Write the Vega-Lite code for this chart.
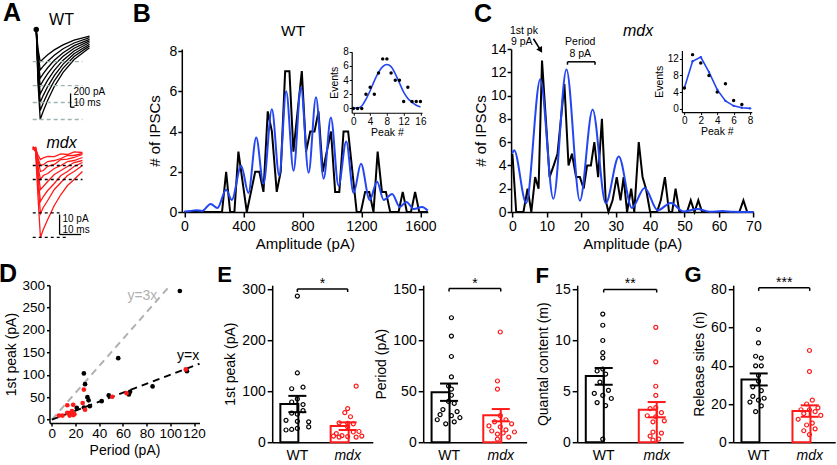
{
"$schema":"https://vega.github.io/schema/vega-lite/v6.json",
"background":"white",
"padding":{"left":-1.5,"top":0,"right":0,"bottom":0},
"autosize":{"type":"pad"},
"config":{
 "font":"Liberation Sans",
 "numberFormat":"d",
 "view":{"stroke":null},
 "axis":{"domainColor":"black","domainWidth":1.5,"tickColor":"black","tickWidth":1.5,"tickSize":5,"labelColor":"black","titleColor":"black","labelFontSize":14,"titleFontSize":15,"titleFontWeight":"normal","grid":false,"labelPadding":2,"titlePadding":3,"labelFont":"Liberation Sans","titleFont":"Liberation Sans","labelOverlap":false,"labelFlush":false,"tickCount":20},
 "text":{"font":"Liberation Sans","color":"black"}
},
"datasets":{
 "wtTraces":[
  {"tr":1,"t":0.8,"i":0},{"tr":1,"t":1.6,"i":-258},{"tr":1,"t":2.6,"i":-430},{"tr":1,"t":4,"i":-389},{"tr":1,"t":6,"i":-338},{"tr":1,"t":9,"i":-272},{"tr":1,"t":13,"i":-205},{"tr":1,"t":18,"i":-143},{"tr":1,"t":25,"i":-87},
  {"tr":2,"t":0.8,"i":0},{"tr":2,"t":1.6,"i":-324},{"tr":2,"t":2.6,"i":-540},{"tr":2,"t":4,"i":-489},{"tr":2,"t":6,"i":-424},{"tr":2,"t":9,"i":-342},{"tr":2,"t":13,"i":-257},{"tr":2,"t":18,"i":-180},{"tr":2,"t":25,"i":-109},
  {"tr":3,"t":0.8,"i":0},{"tr":3,"t":1.6,"i":-390},{"tr":3,"t":2.6,"i":-650},{"tr":3,"t":4,"i":-588},{"tr":3,"t":6,"i":-510},{"tr":3,"t":9,"i":-411},{"tr":3,"t":13,"i":-309},{"tr":3,"t":18,"i":-216},{"tr":3,"t":25,"i":-131},
  {"tr":4,"t":0.8,"i":0},{"tr":4,"t":1.6,"i":-450},{"tr":4,"t":2.6,"i":-750},{"tr":4,"t":4,"i":-679},{"tr":4,"t":6,"i":-589},{"tr":4,"t":9,"i":-475},{"tr":4,"t":13,"i":-357},{"tr":4,"t":18,"i":-250},{"tr":4,"t":25,"i":-152},
  {"tr":5,"t":0.8,"i":0},{"tr":5,"t":1.6,"i":-516},{"tr":5,"t":2.6,"i":-860},{"tr":5,"t":4,"i":-778},{"tr":5,"t":6,"i":-675},{"tr":5,"t":9,"i":-544},{"tr":5,"t":13,"i":-409},{"tr":5,"t":18,"i":-286},{"tr":5,"t":25,"i":-174},
  {"tr":6,"t":0.8,"i":0},{"tr":6,"t":1.6,"i":-582},{"tr":6,"t":2.6,"i":-970},{"tr":6,"t":4,"i":-878},{"tr":6,"t":6,"i":-761},{"tr":6,"t":9,"i":-614},{"tr":6,"t":13,"i":-462},{"tr":6,"t":18,"i":-323},{"tr":6,"t":25,"i":-196},
  {"tr":7,"t":0.8,"i":0},{"tr":7,"t":1.6,"i":-648},{"tr":7,"t":2.6,"i":-1080},{"tr":7,"t":4,"i":-977},{"tr":7,"t":6,"i":-848},{"tr":7,"t":9,"i":-684},{"tr":7,"t":13,"i":-514},{"tr":7,"t":18,"i":-360},{"tr":7,"t":25,"i":-218},
  {"tr":8,"t":0.8,"i":0},{"tr":8,"t":1.6,"i":-720},{"tr":8,"t":2.6,"i":-1200},{"tr":8,"t":4,"i":-1086},{"tr":8,"t":6,"i":-942},{"tr":8,"t":9,"i":-760},{"tr":8,"t":13,"i":-571},{"tr":8,"t":18,"i":-400},{"tr":8,"t":25,"i":-242}
 ],
 "wtDash":[{"i":-427,"t1":-0.8,"t2":21.8},{"i":-747,"t1":-0.8,"t2":21.8},{"i":-973,"t1":-0.8,"t2":21.8},{"i":-1200,"t1":-0.8,"t2":21.8}],
 "wtBar":[{"t1":16.4,"t2":16.4,"i1":-853,"i2":-1036},{"t1":16.4,"t2":18.2,"i1":-1036,"i2":-1036}],
 "mdxTraces":[
  {"tr":1,"t":-0.8,"i":1},{"tr":1,"t":0.5,"i":0.5},{"tr":1,"t":1.5,"i":-2.5},{"tr":1,"t":2.7,"i":-5},{"tr":1,"t":4,"i":-4.2},{"tr":1,"t":6,"i":-3.5},{"tr":1,"t":9,"i":-3.6},{"tr":1,"t":12,"i":-2.2},{"tr":1,"t":15,"i":-2.5},{"tr":1,"t":18,"i":-1.2},{"tr":1,"t":21.8,"i":-1.5},
  {"tr":2,"t":-0.8,"i":0},{"tr":2,"t":0.5,"i":1},{"tr":2,"t":1.5,"i":-4},{"tr":2,"t":2.7,"i":-8},{"tr":2,"t":4,"i":-7.6},{"tr":2,"t":6,"i":-6},{"tr":2,"t":9,"i":-5.5},{"tr":2,"t":12,"i":-4.5},{"tr":2,"t":15,"i":-3},{"tr":2,"t":18,"i":-3},{"tr":2,"t":21.8,"i":-2},
  {"tr":3,"t":-0.8,"i":1.5},{"tr":3,"t":0.5,"i":0},{"tr":3,"t":1.5,"i":-5},{"tr":3,"t":2.7,"i":-11},{"tr":3,"t":4,"i":-10.5},{"tr":3,"t":6,"i":-8.4},{"tr":3,"t":9,"i":-7.5},{"tr":3,"t":12,"i":-5},{"tr":3,"t":15,"i":-4.8},{"tr":3,"t":18,"i":-4},{"tr":3,"t":21.8,"i":-2.5},
  {"tr":4,"t":-0.8,"i":0.5},{"tr":4,"t":0.5,"i":1},{"tr":4,"t":1.5,"i":-8},{"tr":4,"t":2.7,"i":-15},{"tr":4,"t":4,"i":-13},{"tr":4,"t":6,"i":-12},{"tr":4,"t":9,"i":-9.5},{"tr":4,"t":12,"i":-8},{"tr":4,"t":15,"i":-6},{"tr":4,"t":18,"i":-5.5},{"tr":4,"t":21.8,"i":-4},
  {"tr":5,"t":-0.8,"i":1},{"tr":5,"t":0.5,"i":-0.5},{"tr":5,"t":1.5,"i":-10},{"tr":5,"t":2.7,"i":-20},{"tr":5,"t":4,"i":-18.5},{"tr":5,"t":6,"i":-16},{"tr":5,"t":9,"i":-12.5},{"tr":5,"t":12,"i":-10.5},{"tr":5,"t":15,"i":-8.5},{"tr":5,"t":18,"i":-6.5},{"tr":5,"t":21.8,"i":-5.5},
  {"tr":6,"t":-0.8,"i":0},{"tr":6,"t":0.5,"i":0.5},{"tr":6,"t":1.5,"i":-13},{"tr":6,"t":2.7,"i":-26},{"tr":6,"t":4,"i":-23.5},{"tr":6,"t":6,"i":-20.5},{"tr":6,"t":9,"i":-17},{"tr":6,"t":12,"i":-13},{"tr":6,"t":15,"i":-11},{"tr":6,"t":18,"i":-8.5},{"tr":6,"t":21.8,"i":-6.5},
  {"tr":7,"t":-0.8,"i":1},{"tr":7,"t":0.5,"i":0},{"tr":7,"t":1.5,"i":-16},{"tr":7,"t":2.7,"i":-32},{"tr":7,"t":4,"i":-29},{"tr":7,"t":6,"i":-25.5},{"tr":7,"t":9,"i":-20},{"tr":7,"t":12,"i":-16.5},{"tr":7,"t":15,"i":-13},{"tr":7,"t":18,"i":-11},{"tr":7,"t":21.8,"i":-8},
  {"tr":8,"t":-0.8,"i":0.5},{"tr":8,"t":0.5,"i":-1},{"tr":8,"t":1.5,"i":-22},{"tr":8,"t":2.7,"i":-44},{"tr":8,"t":4,"i":-40},{"tr":8,"t":6,"i":-35},{"tr":8,"t":9,"i":-28},{"tr":8,"t":12,"i":-22.5},{"tr":8,"t":15,"i":-18},{"tr":8,"t":18,"i":-15},{"tr":8,"t":21.8,"i":-11}
 ],
 "mdxDash":[{"i":-8,"t1":-0.8,"t2":21.8},{"i":-15,"t1":-0.8,"t2":21.8},{"i":-31.7,"t1":-0.8,"t2":11.4},{"i":-43.9,"t1":-0.8,"t2":14.5}],
 "mdxBar":[{"t1":11.4,"t2":11.4,"i1":-32.5,"i2":-42.5},{"t1":11.4,"t2":21.2,"i1":-42.5,"i2":-42.5}],
 "bBlack":[{"a":0,"n":0},{"a":255,"n":0},{"a":283,"n":2},{"a":310,"n":0},{"a":339,"n":0},{"a":366,"n":3},{"a":423,"n":0},{"a":480,"n":2},{"a":508,"n":2},{"a":536,"n":1},{"a":565,"n":5},{"a":593,"n":4},{"a":626,"n":1},{"a":653,"n":2},{"a":683,"n":7},{"a":712,"n":7},{"a":739,"n":3},{"a":796,"n":7},{"a":825,"n":3},{"a":853,"n":4},{"a":882,"n":4},{"a":909,"n":5},{"a":938,"n":2},{"a":965,"n":3},{"a":994,"n":4},{"a":1022,"n":1},{"a":1050,"n":1},{"a":1079,"n":4},{"a":1110,"n":4},{"a":1168,"n":0},{"a":1196,"n":0},{"a":1225,"n":1},{"a":1253,"n":1},{"a":1282,"n":0},{"a":1310,"n":3},{"a":1339,"n":1},{"a":1366,"n":1},{"a":1395,"n":0},{"a":1452,"n":0},{"a":1480,"n":1},{"a":1508,"n":0},{"a":1536,"n":0},{"a":1564,"n":1},{"a":1592,"n":0},{"a":1650,"n":0}],
 "bBlue":[{"a":0,"n":0.02},{"a":40,"n":0.05},{"a":80,"n":0.09},{"a":120,"n":0.05},{"a":178,"n":0.4},{"a":224,"n":0.2},{"a":283,"n":1.1},{"a":321,"n":0.6},{"a":385,"n":2.3},{"a":434,"n":0.95},{"a":487,"n":3.7},{"a":536,"n":1.4},{"a":593,"n":5.1},{"a":643,"n":1.8},{"a":690,"n":6.0},{"a":740,"n":2.05},{"a":790,"n":6.2},{"a":842,"n":1.95},{"a":892,"n":5.7},{"a":944,"n":1.65},{"a":993,"n":4.7},{"a":1045,"n":1.3},{"a":1097,"n":3.5},{"a":1147,"n":0.95},{"a":1197,"n":2.4},{"a":1256,"n":0.6},{"a":1306,"n":1.5},{"a":1351,"n":0.6},{"a":1408,"n":0.9},{"a":1460,"n":0.25},{"a":1505,"n":0.5},{"a":1555,"n":0.15},{"a":1611,"n":0.25},{"a":1650,"n":0.07}],
 "bInsetPts":[{"k":0,"e":0},{"k":1,"e":0},{"k":2,"e":0},{"k":3,"e":2},{"k":4,"e":3},{"k":5,"e":2},{"k":6,"e":5},{"k":7,"e":7},{"k":8,"e":7},{"k":9,"e":5},{"k":10,"e":4},{"k":11,"e":4},{"k":12,"e":1},{"k":13,"e":3},{"k":14,"e":1},{"k":15,"e":1},{"k":16,"e":1}],
 "bInsetFit":[{"k":0,"e":0.05},{"k":1,"e":0.08},{"k":2,"e":0.35},{"k":3,"e":1.3},{"k":4,"e":2.5},{"k":5,"e":3.9},{"k":6,"e":5.1},{"k":7,"e":5.9},{"k":8,"e":6.2},{"k":9,"e":5.9},{"k":10,"e":4.9},{"k":11,"e":3.6},{"k":12,"e":2.3},{"k":13,"e":1.4},{"k":14,"e":0.85},{"k":15,"e":0.45},{"k":16,"e":0.2}],
 "cBlack":[{"a":0,"n":5},{"a":1.1,"n":0},{"a":3.2,"n":0},{"a":4.4,"n":2},{"a":5.5,"n":0},{"a":6.6,"n":3},{"a":7.6,"n":2},{"a":8.6,"n":13},{"a":10.8,"n":3},{"a":12,"n":4},{"a":13.1,"n":5},{"a":15.1,"n":11},{"a":16.3,"n":4},{"a":17.3,"n":5},{"a":18.5,"n":3},{"a":19.6,"n":3},{"a":20.7,"n":2},{"a":21.7,"n":4},{"a":22.8,"n":4},{"a":23.8,"n":6},{"a":24.9,"n":3},{"a":26,"n":8},{"a":27.1,"n":1},{"a":27.9,"n":0},{"a":29.1,"n":1},{"a":30.3,"n":3},{"a":31.4,"n":1},{"a":32.3,"n":3},{"a":33.3,"n":0},{"a":34.5,"n":2},{"a":35.4,"n":0},{"a":36.7,"n":6},{"a":37.8,"n":3},{"a":38.8,"n":2},{"a":40,"n":0},{"a":42,"n":0},{"a":43.1,"n":1},{"a":44.3,"n":3},{"a":45.5,"n":0},{"a":46.4,"n":0},{"a":47.4,"n":2},{"a":48.5,"n":0},{"a":50.7,"n":0},{"a":51.8,"n":1},{"a":52.9,"n":0},{"a":54,"n":1},{"a":55.1,"n":0},{"a":65.9,"n":0},{"a":67.1,"n":1},{"a":68.2,"n":0},{"a":70,"n":0}],
 "cBlue":[{"a":0,"n":5.06},{"a":0.5,"n":5.3},{"a":4.0,"n":0.77},{"a":8.1,"n":11.4},{"a":11.9,"n":1.14},{"a":15.7,"n":12.25},{"a":19.6,"n":0.97},{"a":23.3,"n":8.8},{"a":27.1,"n":0.75},{"a":30.9,"n":4.77},{"a":34.7,"n":0.35},{"a":38.4,"n":2.06},{"a":42.2,"n":0.15},{"a":46,"n":0.77},{"a":49.7,"n":0.05},{"a":53.8,"n":0.26},{"a":57.4,"n":0.02},{"a":61,"n":0.08},{"a":64,"n":0.02},{"a":70,"n":0}],
 "cInsetPts":[{"k":0,"e":5},{"k":1,"e":13},{"k":2,"e":11},{"k":3,"e":8},{"k":4,"e":4},{"k":5,"e":6},{"k":6,"e":2},{"k":7,"e":1}],
 "cInsetFit":[{"k":0,"e":5},{"k":1,"e":11.4},{"k":2,"e":12.4},{"k":3,"e":8.8},{"k":4,"e":4.6},{"k":5,"e":1.9},{"k":6,"e":0.7},{"k":7,"e":0.25},{"k":8,"e":0.1}],
 "dLines":[{"ln":"3x","p":0,"f":0},{"ln":"3x","p":100,"f":300},{"ln":"1x","p":0,"f":0},{"ln":"1x","p":124.6,"f":124.6}],
 "dPts":[{"g":"WT","p":108,"f":287},{"g":"WT","p":56,"f":137},{"g":"WT","p":27,"f":103},{"g":"WT","p":28,"f":79},{"g":"WT","p":30,"f":50},{"g":"WT","p":31,"f":43},{"g":"WT","p":32,"f":30},{"g":"WT","p":27,"f":27},{"g":"WT","p":21,"f":26},{"g":"WT","p":42,"f":41},{"g":"WT","p":48,"f":54},{"g":"WT","p":66,"f":62},{"g":"WT","p":65,"f":56},{"g":"WT","p":85,"f":74},{"g":"WT","p":114,"f":108},
  {"g":"mdx","p":113,"f":112},{"g":"mdx","p":63,"f":59},{"g":"mdx","p":51,"f":51},{"g":"mdx","p":27,"f":67},{"g":"mdx","p":28,"f":22},{"g":"mdx","p":26,"f":37},{"g":"mdx","p":18,"f":33},{"g":"mdx","p":13,"f":32},{"g":"mdx","p":17,"f":19},{"g":"mdx","p":16,"f":15},{"g":"mdx","p":19,"f":12},{"g":"mdx","p":13,"f":15},{"g":"mdx","p":6,"f":9},{"g":"mdx","p":9,"f":9},{"g":"mdx","p":15,"f":9},{"g":"mdx","p":18,"f":10}],
 "e1Bar":[{"g":"WT","m":75,"lo":59,"hi":91},{"g":"mdx","m":32,"lo":24,"hi":39}],
 "e1Dots":[{"g":"WT","v":287,"s":0},{"g":"WT","v":136,"s":0},{"g":"WT","v":108,"s":1},{"g":"WT","v":105,"s":-1},{"g":"WT","v":85,"s":0},{"g":"WT","v":79,"s":-1},{"g":"WT","v":74,"s":1},{"g":"WT","v":62,"s":1},{"g":"WT","v":57,"s":-1},{"g":"WT","v":55,"s":0},{"g":"WT","v":43,"s":-2},{"g":"WT","v":41,"s":0},{"g":"WT","v":40,"s":2},{"g":"WT","v":30,"s":2},{"g":"WT","v":27,"s":0},{"g":"WT","v":25,"s":-1},{"g":"WT","v":24,"s":-2},
  {"g":"mdx","v":110,"s":1.5},{"g":"mdx","v":66,"s":0},{"g":"mdx","v":58,"s":-0.5},{"g":"mdx","v":50,"s":0.5},{"g":"mdx","v":38,"s":-1.5},{"g":"mdx","v":37,"s":0},{"g":"mdx","v":36,"s":1},{"g":"mdx","v":30,"s":0},{"g":"mdx","v":21,"s":2},{"g":"mdx","v":20,"s":1},{"g":"mdx","v":17,"s":-2},{"g":"mdx","v":13,"s":-1},{"g":"mdx","v":12,"s":2.5},{"g":"mdx","v":12,"s":-2.5},{"g":"mdx","v":11,"s":0},{"g":"mdx","v":10,"s":1.5},{"g":"mdx","v":10,"s":-1.5}],
 "e2Bar":[{"g":"WT","m":49,"lo":40.5,"hi":57.5},{"g":"mdx","m":26.5,"lo":20.5,"hi":32.5}],
 "e2Dots":[{"g":"WT","v":122,"s":0.5},{"g":"WT","v":104,"s":0.5},{"g":"WT","v":84,"s":0.5},{"g":"WT","v":64,"s":0.5},{"g":"WT","v":55,"s":0},{"g":"WT","v":52,"s":0.5},{"g":"WT","v":46,"s":0.5},{"g":"WT","v":40,"s":0},{"g":"WT","v":38,"s":1},{"g":"WT","v":32,"s":-1},{"g":"WT","v":30,"s":1.5},{"g":"WT","v":27,"s":-1.5},{"g":"WT","v":26,"s":0.5},{"g":"WT","v":24,"s":2},{"g":"WT","v":22,"s":-2},{"g":"WT","v":20,"s":1},{"g":"WT","v":18,"s":-0.5},
  {"g":"mdx","v":108,"s":0},{"g":"mdx","v":60,"s":-0.5},{"g":"mdx","v":52,"s":-0.5},{"g":"mdx","v":26,"s":0},{"g":"mdx","v":22,"s":1},{"g":"mdx","v":20,"s":-1},{"g":"mdx","v":18,"s":2},{"g":"mdx","v":16,"s":-2},{"g":"mdx","v":15,"s":0},{"g":"mdx","v":12,"s":1},{"g":"mdx","v":11,"s":-1.5},{"g":"mdx","v":10,"s":2.5},{"g":"mdx","v":9,"s":0.5},{"g":"mdx","v":8,"s":-0.5},{"g":"mdx","v":5,"s":1.5},{"g":"mdx","v":3,"s":-0.5}],
 "fBar":[{"g":"WT","m":6.5,"lo":5.65,"hi":7.3},{"g":"mdx","m":3.2,"lo":2.45,"hi":3.95}],
 "fDots":[{"g":"WT","v":12.6,"s":0},{"g":"WT","v":11.5,"s":0},{"g":"WT","v":10.0,"s":0},{"g":"WT","v":8.8,"s":0},{"g":"WT","v":8.3,"s":0},{"g":"WT","v":7.2,"s":0},{"g":"WT","v":7.0,"s":-1},{"g":"WT","v":6.7,"s":0.5},{"g":"WT","v":5.9,"s":-0.5},{"g":"WT","v":5.1,"s":1},{"g":"WT","v":4.8,"s":-1.5},{"g":"WT","v":4.6,"s":0},{"g":"WT","v":4.3,"s":1.5},{"g":"WT","v":3.9,"s":-1},{"g":"WT","v":3.6,"s":0.5},{"g":"WT","v":0.3,"s":0},
  {"g":"mdx","v":11.3,"s":0},{"g":"mdx","v":7.9,"s":0},{"g":"mdx","v":5.5,"s":0},{"g":"mdx","v":4.6,"s":0},{"g":"mdx","v":3.4,"s":0},{"g":"mdx","v":3.3,"s":-1},{"g":"mdx","v":2.9,"s":1},{"g":"mdx","v":2.6,"s":-1.5},{"g":"mdx","v":2.5,"s":0},{"g":"mdx","v":2.1,"s":1.5},{"g":"mdx","v":2.0,"s":-0.5},{"g":"mdx","v":1.0,"s":-0.5},{"g":"mdx","v":0.9,"s":1},{"g":"mdx","v":0.6,"s":-1},{"g":"mdx","v":0.3,"s":0.5},{"g":"mdx","v":0.2,"s":-0.5}],
 "gBar":[{"g":"WT","m":32.8,"lo":29.7,"hi":36},{"g":"mdx","m":16.3,"lo":13.3,"hi":19.3}],
 "gDots":[{"g":"WT","v":59,"s":0},{"g":"WT","v":52,"s":0},{"g":"WT","v":45,"s":-0.5},{"g":"WT","v":44,"s":0.5},{"g":"WT","v":40,"s":-0.5},{"g":"WT","v":40,"s":0.5},{"g":"WT","v":35,"s":0},{"g":"WT","v":32,"s":0},{"g":"WT","v":29,"s":-1},{"g":"WT","v":27,"s":0.5},{"g":"WT","v":24,"s":-1},{"g":"WT","v":23,"s":1},{"g":"WT","v":22,"s":0},{"g":"WT","v":21,"s":-1.5},{"g":"WT","v":19,"s":0.5},{"g":"WT","v":16,"s":-0.5},
  {"g":"mdx","v":48,"s":0},{"g":"mdx","v":37,"s":0},{"g":"mdx","v":22,"s":0.5},{"g":"mdx","v":20,"s":-0.5},{"g":"mdx","v":18,"s":1.5},{"g":"mdx","v":17,"s":-1.5},{"g":"mdx","v":17,"s":0},{"g":"mdx","v":16,"s":1},{"g":"mdx","v":15,"s":-1},{"g":"mdx","v":14,"s":2},{"g":"mdx","v":12,"s":-2},{"g":"mdx","v":10,"s":0.5},{"g":"mdx","v":9,"s":-0.5},{"g":"mdx","v":7,"s":1},{"g":"mdx","v":6,"s":-1},{"g":"mdx","v":4,"s":0}]
},
"vconcat":[
 {"hconcat":[
  {"width":48.4,"height":163,
   "layer":[
    {"layer":[
     {"data":{"name":"wtTraces"},"mark":{"type":"line","color":"black","strokeWidth":1.3},
      "encoding":{"x":{"field":"t","type":"quantitative","scale":{"domain":[6.82,28.82],"nice":false,"zero":false},"axis":null},
       "y":{"field":"i","type":"quantitative","scale":{"domain":[-2433,-260],"nice":false,"zero":false},"axis":null},
       "detail":{"field":"tr","type":"nominal"}}},
     {"data":{"name":"wtDash"},"mark":{"type":"rule","color":"#9fb3b3","strokeDash":[4,3],"strokeWidth":1.3},
      "encoding":{"x":{"field":"t1","type":"quantitative"},"x2":{"field":"t2"},"y":{"field":"i","type":"quantitative"}}},
     {"data":{"name":"wtBar"},"mark":{"type":"rule","color":"black","strokeWidth":1.3},
      "encoding":{"x":{"field":"t1","type":"quantitative"},"x2":{"field":"t2"},"y":{"field":"i1","type":"quantitative"},"y2":{"field":"i2"}}},
     {"data":{"values":[{}]},"mark":{"type":"point","filled":true,"color":"black","size":30,"opacity":1},
      "encoding":{"x":{"datum":0.8,"type":"quantitative"},"y":{"datum":0,"type":"quantitative"}}},
     {"data":{"values":[{}]},"mark":{"type":"text","fontSize":16},"encoding":{"x":{"datum":12.3,"type":"quantitative"},"y":{"datum":133,"type":"quantitative"},"text":{"value":"WT"}}},
     {"data":{"values":[{}]},"mark":{"type":"text","fontSize":10,"align":"left"},"encoding":{"x":{"datum":17.7,"type":"quantitative"},"y":{"datum":-833,"type":"quantitative"},"text":{"value":"200 pA"}}},
     {"data":{"values":[{}]},"mark":{"type":"text","fontSize":10,"align":"left"},"encoding":{"x":{"datum":17.7,"type":"quantitative"},"y":{"datum":-980,"type":"quantitative"},"text":{"value":"10 ms"}}},
     {"data":{"values":[{}]},"mark":{"type":"text","fontSize":25,"fontWeight":"bold"},"encoding":{"x":{"datum":-10.23,"type":"quantitative"},"y":{"datum":220,"type":"quantitative"},"text":{"value":"A"}}}
    ]},
    {"layer":[
     {"data":{"name":"mdxTraces"},"mark":{"type":"line","color":"#ff1a1a","strokeWidth":1.3},
      "encoding":{"x":{"field":"t","type":"quantitative"},
       "y":{"field":"i","type":"quantitative","scale":{"domain":[-31.25,50.25],"nice":false,"zero":false},"axis":null},
       "detail":{"field":"tr","type":"nominal"}}},
     {"data":{"name":"mdxDash"},"mark":{"type":"rule","color":"black","strokeDash":[3,3],"strokeWidth":1.3},
      "encoding":{"x":{"field":"t1","type":"quantitative"},"x2":{"field":"t2"},"y":{"field":"i","type":"quantitative"}}},
     {"data":{"name":"mdxBar"},"mark":{"type":"rule","color":"black","strokeWidth":1.3},
      "encoding":{"x":{"field":"t1","type":"quantitative"},"x2":{"field":"t2"},"y":{"field":"i1","type":"quantitative"},"y2":{"field":"i2"}}},
     {"data":{"values":[{}]},"mark":{"type":"text","fontSize":16,"fontStyle":"italic"},"encoding":{"x":{"datum":12.3,"type":"quantitative"},"y":{"datum":3.5,"type":"quantitative"},"text":{"value":"mdx"}}},
     {"data":{"values":[{}]},"mark":{"type":"text","fontSize":10,"align":"left"},"encoding":{"x":{"datum":12.7,"type":"quantitative"},"y":{"datum":-34.75,"type":"quantitative"},"text":{"value":"10 pA"}}},
     {"data":{"values":[{}]},"mark":{"type":"text","fontSize":10,"align":"left"},"encoding":{"x":{"datum":12.7,"type":"quantitative"},"y":{"datum":-40,"type":"quantitative"},"text":{"value":"10 ms"}}}
    ]}
   ],
   "resolve":{"scale":{"y":"independent"}}
  },
  {"width":246,"height":163,
   "layer":[
    {"layer":[
     {"data":{"name":"bBlack"},"mark":{"type":"line","color":"black","strokeWidth":2},
      "encoding":{"x":{"field":"a","type":"quantitative","scale":{"domain":[-17.6,1650],"nice":false,"zero":false},"axis":{"values":[0,400,800,1200,1600],"tickCount":20,"title":"Amplitude (pA)"}},
       "y":{"field":"n","type":"quantitative","scale":{"domain":[0,8.1],"nice":false,"zero":false},"axis":{"values":[0,2,4,6,8],"tickCount":20,"title":"# of IPSCs","tickSize":4,"labelPadding":1,"titlePadding":7}}}},
     {"data":{"name":"bBlue"},"mark":{"type":"line","color":"#2446f2","strokeWidth":2,"interpolate":"monotone"},
      "encoding":{"x":{"field":"a","type":"quantitative"},"y":{"field":"n","type":"quantitative"}}},
     {"data":{"values":[{}]},"mark":{"type":"text","fontSize":15.5},"encoding":{"x":{"datum":737,"type":"quantitative"},"y":{"datum":8.97,"type":"quantitative"},"text":{"value":"WT"}}},
     {"data":{"values":[{}]},"mark":{"type":"text","fontSize":25,"fontWeight":"bold"},"encoding":{"x":{"datum":-288.8,"type":"quantitative"},"y":{"datum":9.85,"type":"quantitative"},"text":{"value":"B"}}}
    ]},
    {"layer":[
     {"data":{"name":"bInsetFit"},"mark":{"type":"line","color":"#2446f2","strokeWidth":1.6,"interpolate":"monotone"},
      "encoding":{"x":{"field":"k","type":"quantitative","scale":{"domain":[-0.4,16.4],"range":[169.9,240.3],"nice":false,"zero":false},"axis":{"orient":"bottom","offset":-99.25,"values":[0,4,8,12,16],"tickCount":20,"title":"Peak #","domainWidth":1.2,"tickSize":2.5,"tickWidth":1,"labelFontSize":10,"titleFontSize":10.5,"labelPadding":1,"titlePadding":1}},
       "y":{"field":"e","type":"quantitative","scale":{"domain":[-0.6,8],"range":[63.75,2.8],"nice":false,"zero":false},"axis":{"orient":"left","offset":-169.9,"values":[0,2,4,6,8],"tickCount":20,"title":"Events","domainWidth":1.2,"tickSize":2.5,"tickWidth":1,"labelFontSize":10,"titleFontSize":10.5,"labelPadding":1,"titlePadding":3}}}},
     {"data":{"name":"bInsetPts"},"mark":{"type":"point","filled":true,"color":"black","size":12,"opacity":1},
      "encoding":{"x":{"field":"k","type":"quantitative"},"y":{"field":"e","type":"quantitative"}}}
    ]}
   ],
   "resolve":{"scale":{"x":"independent","y":"independent"},"axis":{"x":"independent","y":"independent"}}
  },
  {"width":242.3,"height":163,
   "layer":[
    {"layer":[
     {"data":{"name":"cBlack"},"mark":{"type":"line","color":"black","strokeWidth":2},
      "encoding":{"x":{"field":"a","type":"quantitative","scale":{"domain":[-0.38,70],"nice":false,"zero":false},"axis":{"values":[0,10,20,30,40,50,60,70],"tickCount":20,"title":"Amplitude (pA)"}},
       "y":{"field":"n","type":"quantitative","scale":{"domain":[0,14],"nice":false,"zero":false},"axis":{"values":[0,2,4,6,8,10,12,14],"tickCount":20,"title":"# of IPSCs","tickSize":4,"labelPadding":1,"titlePadding":2}}}},
     {"data":{"name":"cBlue"},"mark":{"type":"line","color":"#2446f2","strokeWidth":2,"interpolate":"monotone"},
      "encoding":{"x":{"field":"a","type":"quantitative"},"y":{"field":"n","type":"quantitative"}}},
     {"data":{"values":[{}]},"mark":{"type":"text","fontSize":16,"fontStyle":"italic"},"encoding":{"x":{"datum":36.5,"type":"quantitative"},"y":{"datum":15.53,"type":"quantitative"},"text":{"value":"mdx"}}},
     {"data":{"values":[{}]},"mark":{"type":"text","fontSize":25,"fontWeight":"bold"},"encoding":{"x":{"datum":-8.51,"type":"quantitative"},"y":{"datum":16.97,"type":"quantitative"},"text":{"value":"C"}}},
     {"data":{"values":[{}]},"mark":{"type":"text","fontSize":10.5},"encoding":{"x":{"datum":3.34,"type":"quantitative"},"y":{"datum":15.56,"type":"quantitative"},"text":{"value":"1st pk"}}},
     {"data":{"values":[{}]},"mark":{"type":"text","fontSize":10.5},"encoding":{"x":{"datum":2.73,"type":"quantitative"},"y":{"datum":14.56,"type":"quantitative"},"text":{"value":"9 pA"}}},
     {"data":{"values":[{}]},"mark":{"type":"text","fontSize":10.5},"encoding":{"x":{"datum":19.7,"type":"quantitative"},"y":{"datum":14.56,"type":"quantitative"},"text":{"value":"Period"}}},
     {"data":{"values":[{}]},"mark":{"type":"text","fontSize":10.5},"encoding":{"x":{"datum":19.7,"type":"quantitative"},"y":{"datum":13.6,"type":"quantitative"},"text":{"value":"8 pA"}}},
     {"data":{"values":[{}]},"mark":{"type":"rule","color":"black","strokeWidth":1.5},"encoding":{"x":{"datum":16,"type":"quantitative"},"x2":{"datum":24},"y":{"datum":12.9,"type":"quantitative"}}},
     {"data":{"values":[{}]},"mark":{"type":"rule","color":"black","strokeWidth":1.5},"encoding":{"x":{"datum":16,"type":"quantitative"},"y":{"datum":12.9,"type":"quantitative"},"y2":{"datum":12.65}}},
     {"data":{"values":[{}]},"mark":{"type":"rule","color":"black","strokeWidth":1.5},"encoding":{"x":{"datum":24,"type":"quantitative"},"y":{"datum":12.9,"type":"quantitative"},"y2":{"datum":12.65}}},
     {"data":{"values":[{}]},"mark":{"type":"rule","color":"black","strokeWidth":1.6},"encoding":{"x":{"datum":6.1,"type":"quantitative"},"x2":{"datum":8.1},"y":{"datum":14.88,"type":"quantitative"},"y2":{"datum":13.95}}},
     {"data":{"values":[{}]},"mark":{"type":"point","shape":"triangle-down","filled":true,"color":"black","size":45,"angle":-31,"opacity":1},"encoding":{"x":{"datum":8.2,"type":"quantitative"},"y":{"datum":13.9,"type":"quantitative"}}}
    ]},
    {"layer":[
     {"data":{"name":"cInsetFit"},"mark":{"type":"line","color":"#2446f2","strokeWidth":1.6,"point":{"filled":true,"size":6,"color":"#2446f2"}},
      "encoding":{"x":{"field":"k","type":"quantitative","scale":{"domain":[-0.3,8.2],"range":[170.8,240.6],"nice":false,"zero":false},"axis":{"orient":"bottom","offset":-99.9,"values":[0,2,4,6,8],"tickCount":20,"title":"Peak #","domainWidth":1.2,"tickSize":2.5,"tickWidth":1,"labelFontSize":10,"titleFontSize":10.5,"labelPadding":1,"titlePadding":1}},
       "y":{"field":"e","type":"quantitative","scale":{"domain":[-0.8,14],"range":[63.1,1.47],"nice":false,"zero":false},"axis":{"orient":"left","offset":-170.8,"values":[0,4,8,12],"tickCount":20,"title":"Events","domainWidth":1.2,"tickSize":2.5,"tickWidth":1,"labelFontSize":10,"titleFontSize":10.5,"labelPadding":1,"titlePadding":3}}}},
     {"data":{"name":"cInsetPts"},"mark":{"type":"point","filled":true,"color":"black","size":12,"opacity":1},
      "encoding":{"x":{"field":"k","type":"quantitative"},"y":{"field":"e","type":"quantitative"}}}
    ]}
   ],
   "resolve":{"scale":{"x":"independent","y":"independent"},"axis":{"x":"independent","y":"independent"}}
  }
 ],"spacing":83.3,"bounds":"flush"},
 {"hconcat":[
  {"width":150,"height":137.7,
   "layer":[
    {"data":{"name":"dLines"},"mark":{"type":"line","strokeWidth":2,"strokeDash":[7,5]},
     "encoding":{"x":{"field":"p","type":"quantitative","scale":{"domain":[-2,124.6],"nice":false,"zero":false},"axis":{"values":[0,20,40,60,80,100,120],"tickCount":20,"title":"Period (pA)","labelFontSize":13.5,"titleFontSize":14,"tickSize":3,"labelPadding":1,"titlePadding":3}},
      "y":{"field":"f","type":"quantitative","scale":{"domain":[-7.4,300],"nice":false,"zero":false},"axis":{"values":[0,50,100,150,200,250,300],"tickCount":20,"title":"1st peak (pA)","labelFontSize":13.5,"titleFontSize":14,"tickSize":3,"labelPadding":2,"titlePadding":3}},
      "detail":{"field":"ln","type":"nominal"},
      "stroke":{"field":"ln","type":"nominal","scale":{"domain":["3x","1x"],"range":["#b0b0b0","black"]},"legend":null}}},
    {"data":{"name":"dPts"},"mark":{"type":"circle","size":22,"opacity":1},
     "encoding":{"x":{"field":"p","type":"quantitative"},"y":{"field":"f","type":"quantitative"},
      "color":{"field":"g","type":"nominal","scale":{"domain":["WT","mdx"],"range":["black","#ff1a1a"]},"legend":null}}},
    {"data":{"values":[{}]},"mark":{"type":"text","fontSize":14,"color":"#b0b0b0"},"encoding":{"x":{"datum":76.4,"type":"quantitative"},"y":{"datum":275,"type":"quantitative"},"text":{"value":"y=3x"}}},
    {"data":{"values":[{}]},"mark":{"type":"text","fontSize":14},"encoding":{"x":{"datum":115,"type":"quantitative"},"y":{"datum":142,"type":"quantitative"},"text":{"value":"y=x"}}},
    {"data":{"values":[{}]},"mark":{"type":"text","fontSize":25,"fontWeight":"bold"},"encoding":{"x":{"datum":-37,"type":"quantitative"},"y":{"datum":326,"type":"quantitative"},"text":{"value":"D"}}}
   ]
  },
  {"hconcat":[
   {"width":100.6,"height":157,
    "layer":[
     {"layer":[
      {"data":{"name":"e1Bar"},"mark":{"type":"bar","fill":"white","strokeWidth":2},
       "encoding":{"x":{"field":"g","type":"nominal","sort":null,"scale":{"domain":["WT","mdx"],"paddingInner":0.324,"paddingOuter":0.162},"axis":{"title":null,"ticks":false,"labelAngle":0,"labelPadding":6,"labelFontStyle":{"condition":{"test":"datum.value === 'mdx'","value":"italic"},"value":"normal"}}},
        "y":{"field":"m","type":"quantitative","scale":{"domain":[0,308.4],"nice":false,"zero":false},"axis":{"values":[0,100,200,300],"tickCount":20,"title":"1st peak (pA)","titleFontSize":14,"titlePadding":4}},
        "stroke":{"field":"g","type":"nominal","scale":{"domain":["WT","mdx"],"range":["black","#ff1a1a"]},"legend":null}}},
      {"data":{"name":"e1Bar"},"mark":{"type":"rule","strokeWidth":2},"encoding":{"x":{"field":"g","type":"nominal"},"y":{"field":"lo","type":"quantitative"},"y2":{"field":"hi"},"stroke":{"field":"g","type":"nominal","legend":null}}},
      {"data":{"name":"e1Bar"},"mark":{"type":"tick","thickness":2,"size":18,"opacity":1},"encoding":{"x":{"field":"g","type":"nominal"},"y":{"field":"lo","type":"quantitative"},"color":{"field":"g","type":"nominal","scale":{"domain":["WT","mdx"],"range":["black","#ff1a1a"]},"legend":null}}},
      {"data":{"name":"e1Bar"},"mark":{"type":"tick","thickness":2,"size":18,"opacity":1},"encoding":{"x":{"field":"g","type":"nominal"},"y":{"field":"hi","type":"quantitative"},"color":{"field":"g","type":"nominal","legend":null}}},
      {"data":{"name":"e1Dots"},"mark":{"type":"point","filled":false,"size":16,"strokeWidth":1.2,"opacity":1},"encoding":{"x":{"field":"g","type":"nominal"},"xOffset":{"field":"s","type":"quantitative","scale":{"domain":[-3,3]}},"y":{"field":"v","type":"quantitative"},"stroke":{"field":"g","type":"nominal","legend":null}}}
     ]},
     {"layer":[
      {"data":{"values":[{}]},"mark":{"type":"rule","color":"black","strokeWidth":1.5},"encoding":{"x":{"datum":0.25,"type":"quantitative","scale":{"domain":[0,1],"nice":false,"zero":false},"axis":null},"x2":{"datum":0.75},"y":{"datum":301,"type":"quantitative"}}},
      {"data":{"values":[{}]},"mark":{"type":"rule","color":"black","strokeWidth":1.5},"encoding":{"x":{"datum":0.25,"type":"quantitative"},"y":{"datum":301,"type":"quantitative"},"y2":{"datum":295}}},
      {"data":{"values":[{}]},"mark":{"type":"rule","color":"black","strokeWidth":1.5},"encoding":{"x":{"datum":0.75,"type":"quantitative"},"y":{"datum":301,"type":"quantitative"},"y2":{"datum":295}}},
      {"data":{"values":[{}]},"mark":{"type":"text","fontSize":14},"encoding":{"x":{"datum":0.5,"type":"quantitative"},"y":{"datum":310,"type":"quantitative"},"text":{"value":"*"}}},
      {"data":{"values":[{}]},"mark":{"type":"text","fontSize":22,"fontWeight":"bold"},"encoding":{"x":{"datum":-0.474,"type":"quantitative"},"y":{"datum":328,"type":"quantitative"},"text":{"value":"E"}}}
     ]}
    ],
    "resolve":{"scale":{"x":"independent"}}
   },
   {"width":103.4,"height":157,
    "layer":[
     {"layer":[
      {"data":{"name":"e2Bar"},"mark":{"type":"bar","fill":"white","strokeWidth":2},
       "encoding":{"x":{"field":"g","type":"nominal","sort":null,"scale":{"domain":["WT","mdx"],"paddingInner":0.324,"paddingOuter":0.162},"axis":{"title":null,"ticks":false,"labelAngle":0,"labelPadding":6,"labelFontStyle":{"condition":{"test":"datum.value === 'mdx'","value":"italic"},"value":"normal"}}},
        "y":{"field":"m","type":"quantitative","scale":{"domain":[0,153.9],"nice":false,"zero":false},"axis":{"values":[0,50,100,150],"tickCount":20,"title":"Period (pA)","titleFontSize":14,"titlePadding":4}},
        "stroke":{"field":"g","type":"nominal","scale":{"domain":["WT","mdx"],"range":["black","#ff1a1a"]},"legend":null}}},
      {"data":{"name":"e2Bar"},"mark":{"type":"rule","strokeWidth":2},"encoding":{"x":{"field":"g","type":"nominal"},"y":{"field":"lo","type":"quantitative"},"y2":{"field":"hi"},"stroke":{"field":"g","type":"nominal","legend":null}}},
      {"data":{"name":"e2Bar"},"mark":{"type":"tick","thickness":2,"size":18,"opacity":1},"encoding":{"x":{"field":"g","type":"nominal"},"y":{"field":"lo","type":"quantitative"},"color":{"field":"g","type":"nominal","scale":{"domain":["WT","mdx"],"range":["black","#ff1a1a"]},"legend":null}}},
      {"data":{"name":"e2Bar"},"mark":{"type":"tick","thickness":2,"size":18,"opacity":1},"encoding":{"x":{"field":"g","type":"nominal"},"y":{"field":"hi","type":"quantitative"},"color":{"field":"g","type":"nominal","legend":null}}},
      {"data":{"name":"e2Dots"},"mark":{"type":"point","filled":false,"size":16,"strokeWidth":1.2,"opacity":1},"encoding":{"x":{"field":"g","type":"nominal"},"xOffset":{"field":"s","type":"quantitative","scale":{"domain":[-3,3]}},"y":{"field":"v","type":"quantitative"},"stroke":{"field":"g","type":"nominal","legend":null}}}
     ]},
     {"layer":[
      {"data":{"values":[{}]},"mark":{"type":"rule","color":"black","strokeWidth":1.5},"encoding":{"x":{"datum":0.25,"type":"quantitative","scale":{"domain":[0,1],"nice":false,"zero":false},"axis":null},"x2":{"datum":0.75},"y":{"datum":150.7,"type":"quantitative"}}},
      {"data":{"values":[{}]},"mark":{"type":"rule","color":"black","strokeWidth":1.5},"encoding":{"x":{"datum":0.25,"type":"quantitative"},"y":{"datum":150.7,"type":"quantitative"},"y2":{"datum":147.7}}},
      {"data":{"values":[{}]},"mark":{"type":"rule","color":"black","strokeWidth":1.5},"encoding":{"x":{"datum":0.75,"type":"quantitative"},"y":{"datum":150.7,"type":"quantitative"},"y2":{"datum":147.7}}},
      {"data":{"values":[{}]},"mark":{"type":"text","fontSize":14},"encoding":{"x":{"datum":0.5,"type":"quantitative"},"y":{"datum":154.9,"type":"quantitative"},"text":{"value":"*"}}}
     ]}
    ],
    "resolve":{"scale":{"x":"independent"}}
   },
   {"width":106,"height":157,
    "layer":[
     {"layer":[
      {"data":{"name":"fBar"},"mark":{"type":"bar","fill":"white","strokeWidth":2},
       "encoding":{"x":{"field":"g","type":"nominal","sort":null,"scale":{"domain":["WT","mdx"],"paddingInner":0.324,"paddingOuter":0.162},"axis":{"title":null,"ticks":false,"labelAngle":0,"labelPadding":6,"labelFontStyle":{"condition":{"test":"datum.value === 'mdx'","value":"italic"},"value":"normal"}}},
        "y":{"field":"m","type":"quantitative","scale":{"domain":[0,15.44],"nice":false,"zero":false},"axis":{"values":[0,5,10,15],"tickCount":20,"title":"Quantal content (m)","titleFontSize":14,"titlePadding":4}},
        "stroke":{"field":"g","type":"nominal","scale":{"domain":["WT","mdx"],"range":["black","#ff1a1a"]},"legend":null}}},
      {"data":{"name":"fBar"},"mark":{"type":"rule","strokeWidth":2},"encoding":{"x":{"field":"g","type":"nominal"},"y":{"field":"lo","type":"quantitative"},"y2":{"field":"hi"},"stroke":{"field":"g","type":"nominal","legend":null}}},
      {"data":{"name":"fBar"},"mark":{"type":"tick","thickness":2,"size":18,"opacity":1},"encoding":{"x":{"field":"g","type":"nominal"},"y":{"field":"lo","type":"quantitative"},"color":{"field":"g","type":"nominal","scale":{"domain":["WT","mdx"],"range":["black","#ff1a1a"]},"legend":null}}},
      {"data":{"name":"fBar"},"mark":{"type":"tick","thickness":2,"size":18,"opacity":1},"encoding":{"x":{"field":"g","type":"nominal"},"y":{"field":"hi","type":"quantitative"},"color":{"field":"g","type":"nominal","legend":null}}},
      {"data":{"name":"fDots"},"mark":{"type":"point","filled":false,"size":16,"strokeWidth":1.2,"opacity":1},"encoding":{"x":{"field":"g","type":"nominal"},"xOffset":{"field":"s","type":"quantitative","scale":{"domain":[-3,3]}},"y":{"field":"v","type":"quantitative"},"stroke":{"field":"g","type":"nominal","legend":null}}}
     ]},
     {"layer":[
      {"data":{"values":[{}]},"mark":{"type":"rule","color":"black","strokeWidth":1.5},"encoding":{"x":{"datum":0.25,"type":"quantitative","scale":{"domain":[0,1],"nice":false,"zero":false},"axis":null},"x2":{"datum":0.75},"y":{"datum":15.01,"type":"quantitative"}}},
      {"data":{"values":[{}]},"mark":{"type":"rule","color":"black","strokeWidth":1.5},"encoding":{"x":{"datum":0.25,"type":"quantitative"},"y":{"datum":15.01,"type":"quantitative"},"y2":{"datum":14.72}}},
      {"data":{"values":[{}]},"mark":{"type":"rule","color":"black","strokeWidth":1.5},"encoding":{"x":{"datum":0.75,"type":"quantitative"},"y":{"datum":15.01,"type":"quantitative"},"y2":{"datum":14.72}}},
      {"data":{"values":[{}]},"mark":{"type":"text","fontSize":14},"encoding":{"x":{"datum":0.5,"type":"quantitative"},"y":{"datum":15.54,"type":"quantitative"},"text":{"value":"**"}}},
      {"data":{"values":[{}]},"mark":{"type":"text","fontSize":22,"fontWeight":"bold"},"encoding":{"x":{"datum":-0.33,"type":"quantitative"},"y":{"datum":16.39,"type":"quantitative"},"text":{"value":"F"}}}
     ]}
    ],
    "resolve":{"scale":{"x":"independent"}}
   },
   {"width":102,"height":157,
    "layer":[
     {"layer":[
      {"data":{"name":"gBar"},"mark":{"type":"bar","fill":"white","strokeWidth":2},
       "encoding":{"x":{"field":"g","type":"nominal","sort":null,"scale":{"domain":["WT","mdx"],"paddingInner":0.324,"paddingOuter":0.162},"axis":{"title":null,"ticks":false,"labelAngle":0,"labelPadding":6,"labelFontStyle":{"condition":{"test":"datum.value === 'mdx'","value":"italic"},"value":"normal"}}},
        "y":{"field":"m","type":"quantitative","scale":{"domain":[0,82.2],"nice":false,"zero":false},"axis":{"values":[0,20,40,60,80],"tickCount":20,"title":"Release sites (n)","titleFontSize":14,"titlePadding":4}},
        "stroke":{"field":"g","type":"nominal","scale":{"domain":["WT","mdx"],"range":["black","#ff1a1a"]},"legend":null}}},
      {"data":{"name":"gBar"},"mark":{"type":"rule","strokeWidth":2},"encoding":{"x":{"field":"g","type":"nominal"},"y":{"field":"lo","type":"quantitative"},"y2":{"field":"hi"},"stroke":{"field":"g","type":"nominal","legend":null}}},
      {"data":{"name":"gBar"},"mark":{"type":"tick","thickness":2,"size":18,"opacity":1},"encoding":{"x":{"field":"g","type":"nominal"},"y":{"field":"lo","type":"quantitative"},"color":{"field":"g","type":"nominal","scale":{"domain":["WT","mdx"],"range":["black","#ff1a1a"]},"legend":null}}},
      {"data":{"name":"gBar"},"mark":{"type":"tick","thickness":2,"size":18,"opacity":1},"encoding":{"x":{"field":"g","type":"nominal"},"y":{"field":"hi","type":"quantitative"},"color":{"field":"g","type":"nominal","legend":null}}},
      {"data":{"name":"gDots"},"mark":{"type":"point","filled":false,"size":16,"strokeWidth":1.2,"opacity":1},"encoding":{"x":{"field":"g","type":"nominal"},"xOffset":{"field":"s","type":"quantitative","scale":{"domain":[-3,3]}},"y":{"field":"v","type":"quantitative"},"stroke":{"field":"g","type":"nominal","legend":null}}}
     ]},
     {"layer":[
      {"data":{"values":[{}]},"mark":{"type":"rule","color":"black","strokeWidth":1.5},"encoding":{"x":{"datum":0.25,"type":"quantitative","scale":{"domain":[0,1],"nice":false,"zero":false},"axis":null},"x2":{"datum":0.75},"y":{"datum":80.8,"type":"quantitative"}}},
      {"data":{"values":[{}]},"mark":{"type":"rule","color":"black","strokeWidth":1.5},"encoding":{"x":{"datum":0.25,"type":"quantitative"},"y":{"datum":80.8,"type":"quantitative"},"y2":{"datum":79.2}}},
      {"data":{"values":[{}]},"mark":{"type":"rule","color":"black","strokeWidth":1.5},"encoding":{"x":{"datum":0.75,"type":"quantitative"},"y":{"datum":80.8,"type":"quantitative"},"y2":{"datum":79.2}}},
      {"data":{"values":[{}]},"mark":{"type":"text","fontSize":14},"encoding":{"x":{"datum":0.5,"type":"quantitative"},"y":{"datum":83.5,"type":"quantitative"},"text":{"value":"***"}}},
      {"data":{"values":[{}]},"mark":{"type":"text","fontSize":22,"fontWeight":"bold"},"encoding":{"x":{"datum":-0.394,"type":"quantitative"},"y":{"datum":87.3,"type":"quantitative"},"text":{"value":"G"}}}
     ]}
    ],
    "resolve":{"scale":{"x":"independent"}}
   }
  ],"spacing":50,"bounds":"flush"}
 ],"spacing":72.7,"bounds":"flush","resolve":{"scale":{"stroke":"independent","color":"independent"}}}
],
"spacing":236.2,
"bounds":"flush",
"resolve":{"scale":{"stroke":"independent","color":"independent"}}
}
